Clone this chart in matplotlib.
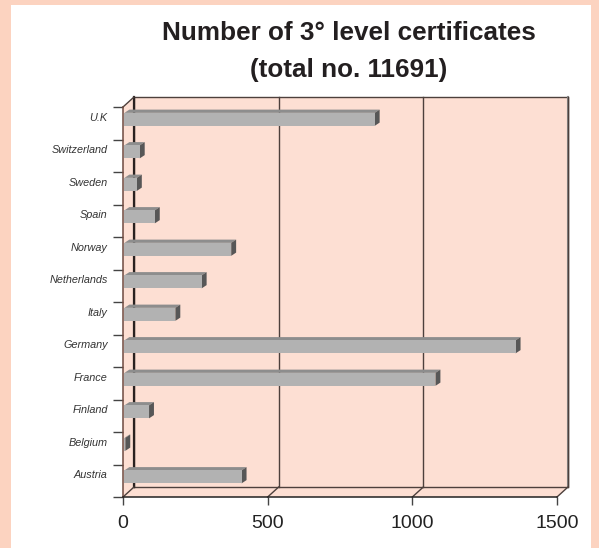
import matplotlib
matplotlib.use("Agg")
import matplotlib.pyplot as plt
from matplotlib.patches import Polygon, Rectangle

# data (bottom to top)
countries = ["Austria", "Belgium", "Finland", "France", "Germany", "Italy",
             "Netherlands", "Norway", "Spain", "Sweden", "Switzerland", "U.K"]
certificates = [410, 8, 90, 1080, 1357, 181, 272, 374, 110, 48, 58, 870]
x_ticks = [0, 500, 1000, 1500]

title_1 = "Number of 3\u00b0 level certificates"
title_2 = "(total no. 11691)"

W, H = 599, 548
plt.rcParams['font.family'] = ['Liberation Sans', 'DejaVu Sans']

fig = plt.figure(figsize=(W / 100, H / 100), dpi=100)
fig.patch.set_facecolor('#fcd3c0')
# white inner panel
fig.patches.append(Rectangle((11 / W, 0), 580 / W, (H - 5) / H,
                             transform=fig.transFigure, facecolor='white',
                             edgecolor='none', zorder=-5))

# axes: front plane 0..1500 -> px 123..557, categories 0..12 -> px 497..107
ax = fig.add_axes([123 / W, (H - 497) / H, 445 / W, 400 / H])
ax.set_zorder(2)
ax.set_facecolor('none')
xmax = 1500 * 445 / 434
ymax = 12 * 400 / 390
ax.set_xlim(0, xmax)
ax.set_ylim(0, ymax)

dx = xmax - 1500      # depth offset of back wall in data units
dy = ymax - 12
n = len(countries)

wall = '#fddfd3'
edge = '#4d403c'
# back wall, side wall, floor
ax.add_patch(Polygon([(dx, dy), (1500 + dx, dy), (1500 + dx, n + dy), (dx, n + dy)],
                     closed=True, facecolor=wall, edgecolor='none', zorder=1))
ax.add_patch(Polygon([(0, 0), (dx, dy), (dx, n + dy), (0, n)],
                     closed=True, facecolor=wall, edgecolor='none', zorder=1))
ax.add_patch(Polygon([(0, 0), (1500, 0), (1500 + dx, dy), (dx, dy)],
                     closed=True, facecolor=wall, edgecolor='none', zorder=1))

# outline of the box
ax.plot([dx, dx, 1500 + dx, 1500 + dx, dx], [dy, n + dy, n + dy, dy, dy],
        color=edge, lw=1.0, zorder=2, clip_on=False)
ax.plot([dx, dx], [dy, n + dy], color='#2a2220', lw=1.6, zorder=2, clip_on=False)
ax.plot([1500 + dx + 1.5, 1500 + dx + 1.5], [dy, n + dy], color='#8a8a8a', lw=1.5,
        zorder=2, clip_on=False)
ax.plot([0, dx], [n, n + dy], color=edge, lw=1.0, zorder=2, clip_on=False)
ax.plot([0, dx], [0, dy], color=edge, lw=1.0, zorder=2, clip_on=False)
for xv in x_ticks[1:]:
    ax.plot([xv, xv + dx], [0, dy], color=edge, lw=1.0, zorder=2, clip_on=False)
    ax.plot([xv + dx, xv + dx], [dy, n + dy], color=edge, lw=1.0, zorder=2, clip_on=False)

# 3-D bars
bh = 0.4
bdx = 17
bdy = 0.1
for i, v in enumerate(certificates):
    y0 = i + 0.62 - bh / 2
    y1 = y0 + bh
    x0 = 5
    ax.add_patch(Polygon([(x0, y1), (v, y1), (v + bdx, y1 + bdy), (x0 + bdx, y1 + bdy)],
                         closed=True, facecolor='#8d8d8d', edgecolor='none', zorder=3))
    ax.add_patch(Polygon([(v, y0), (v + bdx, y0 + bdy), (v + bdx, y1 + bdy), (v, y1)],
                         closed=True, facecolor='#575757', edgecolor='none', zorder=3))
    ax.add_patch(Rectangle((x0, y0), v - x0, bh, facecolor='#b2b2b2',
                           edgecolor='none', zorder=4))

# axes lines and ticks
for s in ['top', 'right']:
    ax.spines[s].set_visible(False)
ax.spines['left'].set_bounds(0, n)
ax.spines['bottom'].set_bounds(0, 1500)
ax.spines['left'].set_color('#6e4a40')
ax.spines['bottom'].set_color('#222222')
for s in ['left', 'bottom']:
    ax.spines[s].set_linewidth(1.1)
    ax.spines[s].set_zorder(5)

ax.set_xticks(x_ticks)
ax.set_xticklabels([str(t) for t in x_ticks])
ax.tick_params(axis='x', direction='out', length=6, width=1, color='#444444',
               labelsize=14, labelcolor='#222222', pad=7)

ax.set_yticks([i + 0.7 for i in range(n)])
ax.set_yticklabels(countries, fontstyle='italic', fontsize=7.8, color='#333333')
ax.set_yticks(list(range(n + 1)), minor=True)
ax.tick_params(axis='y', which='major', length=0, pad=11)
ax.tick_params(axis='y', which='minor', direction='out', length=7, width=1,
               color='#444444')

fig.text(349 / W, 1 - 40 / H, title_1, ha='center', va='baseline',
         fontsize=18.8, fontweight='bold', color='#231f20')
fig.text(349 / W, 1 - 77 / H, title_2, ha='center', va='baseline',
         fontsize=18.8, fontweight='bold', color='#231f20')

fig.savefig('out.png', dpi=100, facecolor=fig.get_facecolor())
